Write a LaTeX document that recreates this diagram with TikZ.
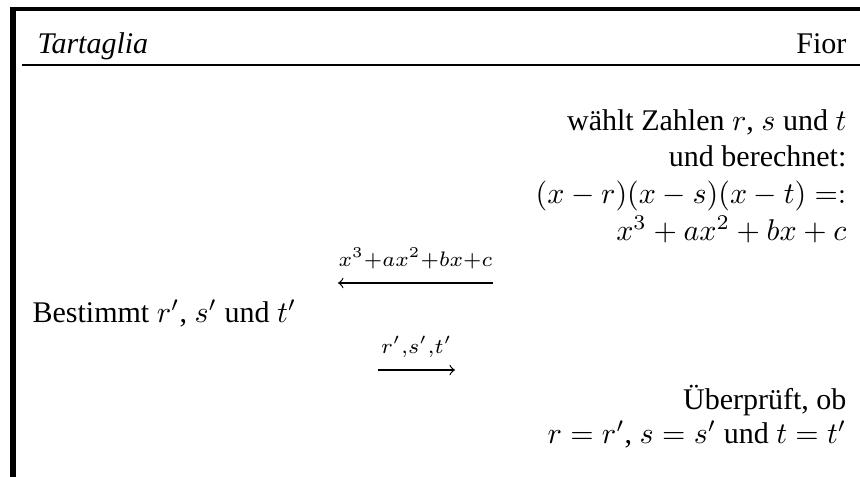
\documentclass[tikz,border=0pt]{standalone}
\usepackage[no-math]{fontspec}
\setmainfont{Liberation Serif}

\begin{document}
\begin{tikzpicture}[x = 0.3333pt, y = -0.3333pt]
	\tikzstyle {rightline} = [anchor = base east, inner sep = 0pt];
	\tikzstyle {leftline} = [anchor = base west, inner sep = 0pt];
	\tikzstyle {msglabel} = [anchor = base, inner sep = 0pt, yshift = 5.4pt];
	\useasboundingbox (0, 0) rectangle (860, 477);
	% frame and header
	\draw[line width = 2pt] (13, 7) -- (13, 477);
	\draw[line width = 1.33pt] (10, 9) -- (860, 9);
	\draw[line width = 0.67pt] (22, 65) -- (860, 65);
	\node[leftline] (tartaglia) at (37, 53) {\textit{Tartaglia}};
	\node[rightline] (fior) at (847, 53) {Fior};
	% Fior
	\foreach \linetext [count = \i] in {{wählt Zahlen $r$, $s$ und $t$}, {und berechnet:}, {$(x-r)(x-s)(x-t) =:$}, {$x^3+ax^2+bx+c$}} {
			\node[rightline] (choose\i) at (847, {130 + 36.7*(\i-1)}) {\linetext};
		}
	\coordinate (polystart) at (493, 283);
	\coordinate (polyend) at (338, 283);
	\draw[->] (polystart) -- node[msglabel] {$\scriptstyle x^3+ax^2+bx+c$} (polyend);
	% Tartaglia
	\node[leftline] (solve) at (32, 322) {Bestimmt $r'$, $s'$ und $t'$};
	\coordinate (rootstart) at (378, 370);
	\coordinate (rootend) at (455, 370);
	\draw[->] (rootstart) -- node[msglabel] {$\scriptstyle r',s',t'$} (rootend);
	\node[rightline] (check1) at (847, 409) {Überprüft, ob};
	\node[rightline] (check2) at (847, 443) {$r = r'$, $s = s'$ und $t = t'$};
\end{tikzpicture}
\end{document}
